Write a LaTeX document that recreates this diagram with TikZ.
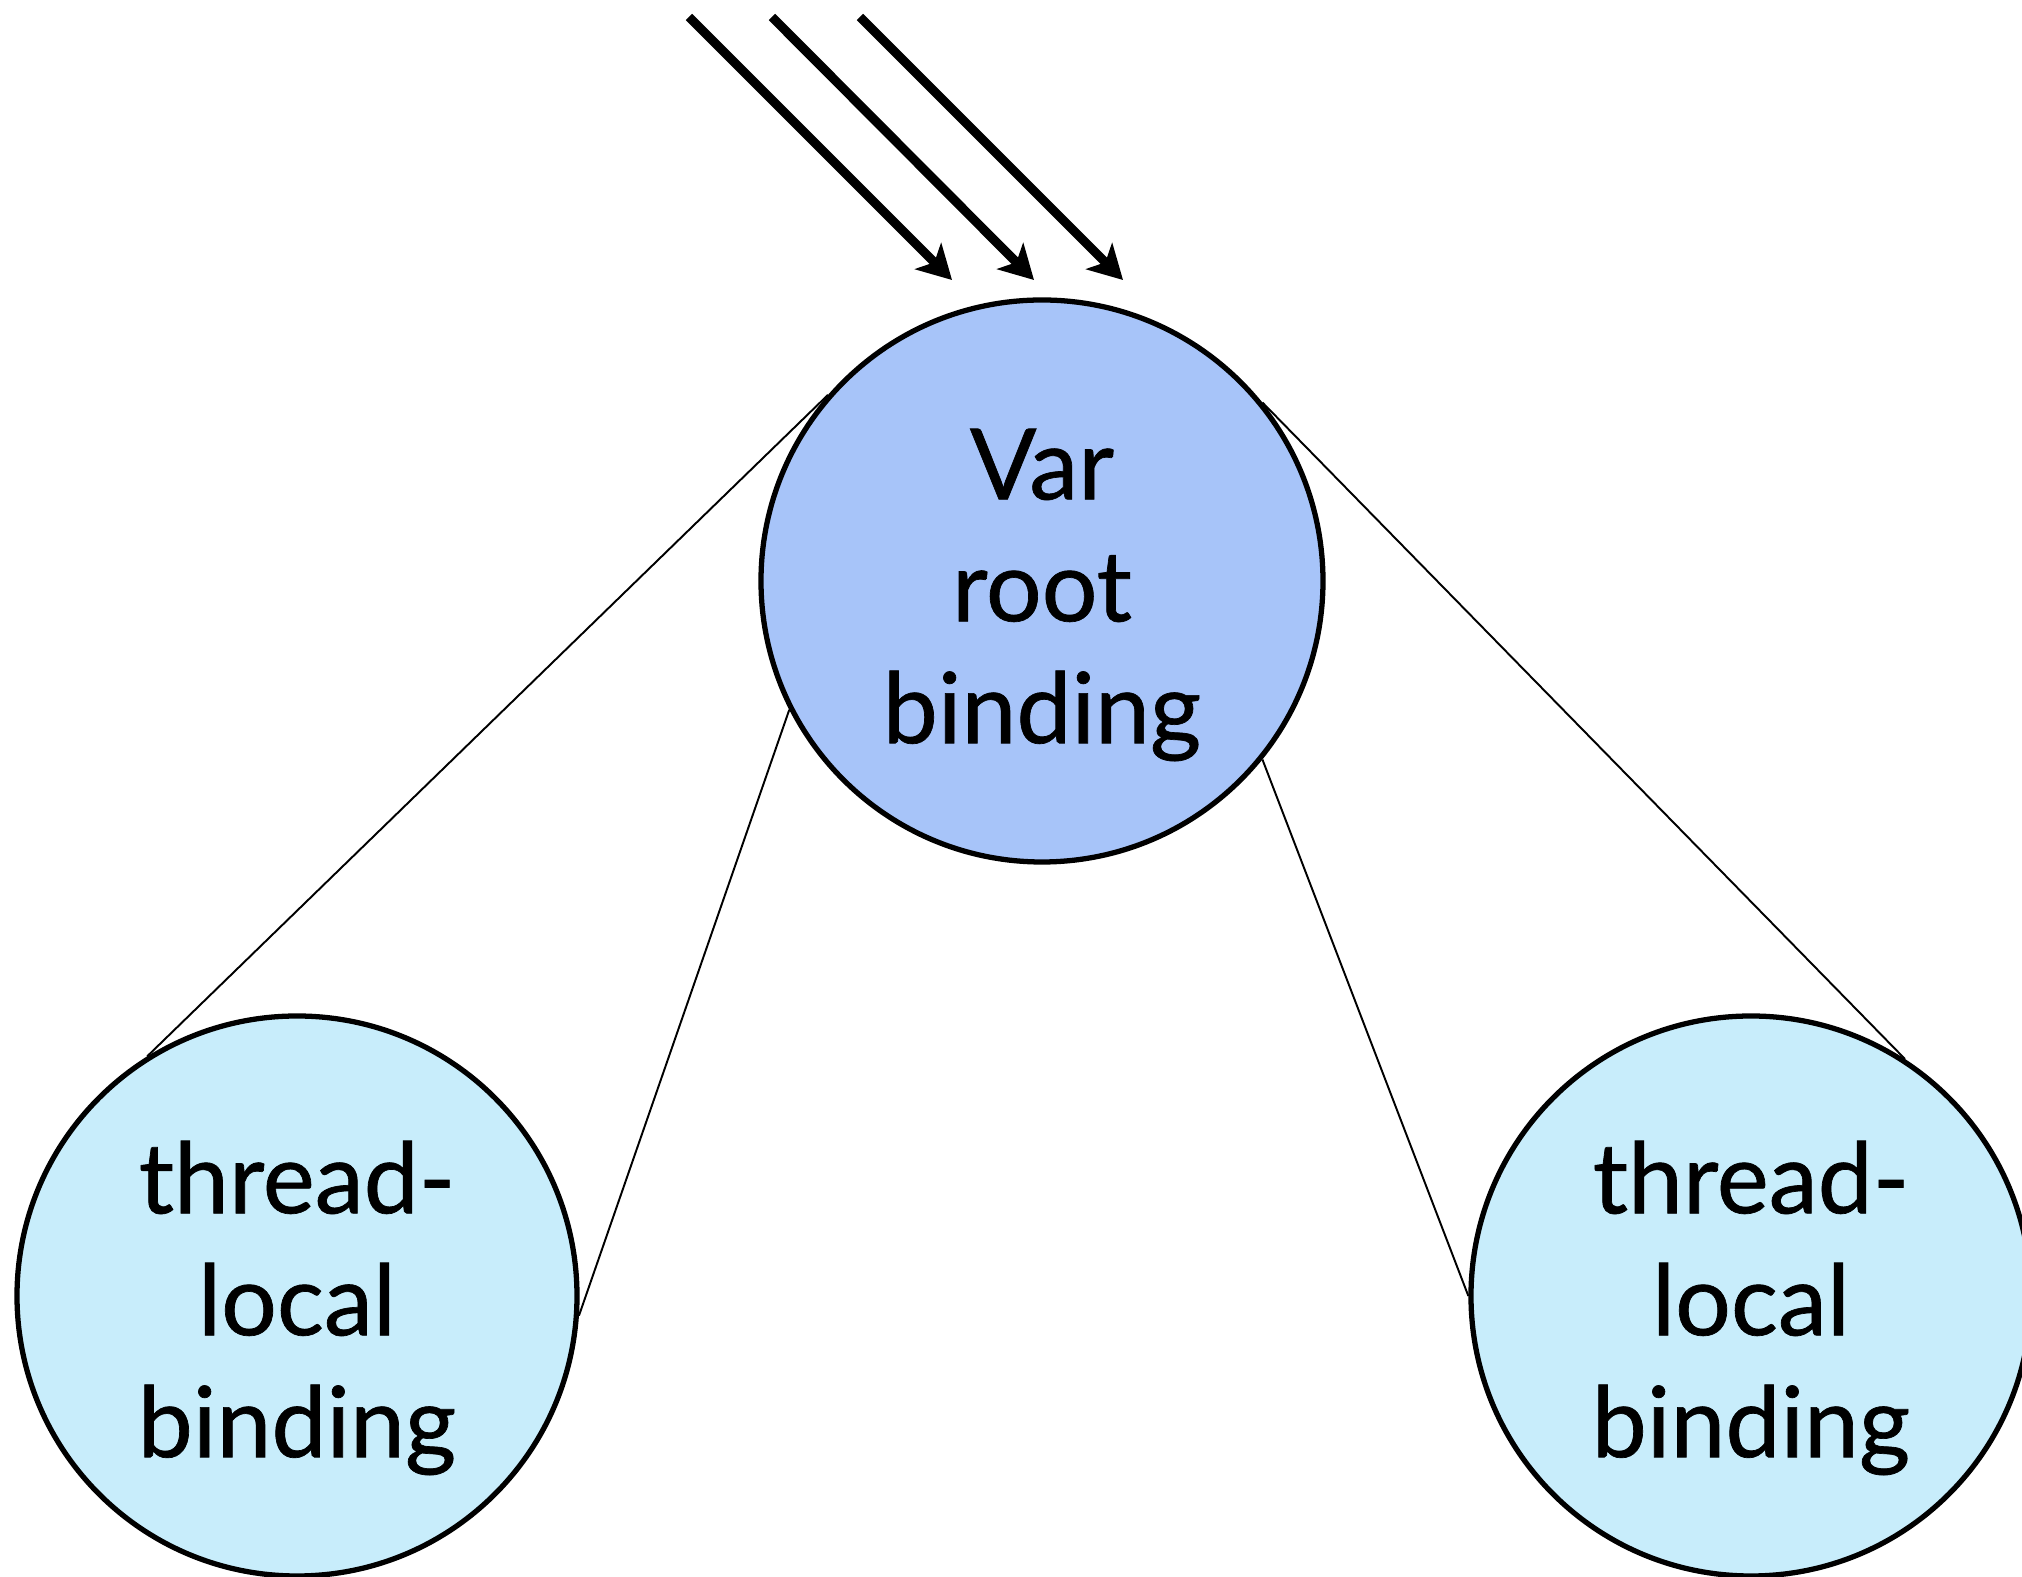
\documentclass[tikz,border=0pt]{standalone}
\usepackage{fontspec}
\setmainfont{Lato}
\newfontfamily\labelfont{Lato}[FakeBold=0.7]
\usetikzlibrary{arrows.meta,backgrounds}
\definecolor{rootfill}{RGB}{167,196,249}
\definecolor{localfill}{RGB}{200,237,251}
\tikzset{
  bindnode/.style={circle, draw=black, line width=1.5pt, inner sep=0pt},
  rootnode/.style={bindnode, fill=rootfill, minimum size=5.62cm},
  localnode/.style={bindnode, fill=localfill, minimum size=5.6cm},
  bindtext/.style={align=center, inner sep=0pt,
    font=\labelfont\fontsize{28}{34.7}\selectfont},
  link/.style={draw=black, line width=0.55pt},
  incoming/.style={draw=black, line width=2.6pt,
    -{Stealth[length=9.6pt, width=10.5pt, inset=2.5pt]}}
}
\begin{document}
\begin{tikzpicture}
  \useasboundingbox (0,0) rectangle (20.22,-15.77);

  % the root binding and its two thread-local bindings
  \node[rootnode] (root) at (10.42,-5.81) {};
  \node[localnode] (left) at (2.97,-12.96) {};
  \node[localnode] (right) at (17.51,-12.96) {};

  % their labels, set a little below the circle centres
  \node[bindtext, yshift=-0.14cm] (roottext) at (root.center) {Var\\root\\binding};
  \node[bindtext, yshift=-0.12cm] (lefttext) at (left.center) {thread-\\local\\binding};
  \node[bindtext, yshift=-0.12cm] (righttext) at (right.center) {thread-\\local\\binding};

  % links between the circles, kept behind them
  \begin{scope}[on background layer]
    \draw[link] (root.139) -- (left.122);
    \draw[link] (root.207.5) -- (left.-4.5);
    \draw[link] (root.39.8) -- (right.57.4);
    \draw[link] (root.-39.5) -- (right.180);
  \end{scope}

  % three incoming references
  \coordinate (in1s) at (6.89,-0.17);
  \coordinate (in1e) at (9.52,-2.80);
  \coordinate (in2s) at (7.72,-0.17);
  \coordinate (in2e) at (10.34,-2.80);
  \coordinate (in3s) at (8.60,-0.17);
  \coordinate (in3e) at (11.23,-2.80);
  \draw[incoming] (in1s) -- (in1e);
  \draw[incoming] (in2s) -- (in2e);
  \draw[incoming] (in3s) -- (in3e);
\end{tikzpicture}
\end{document}
